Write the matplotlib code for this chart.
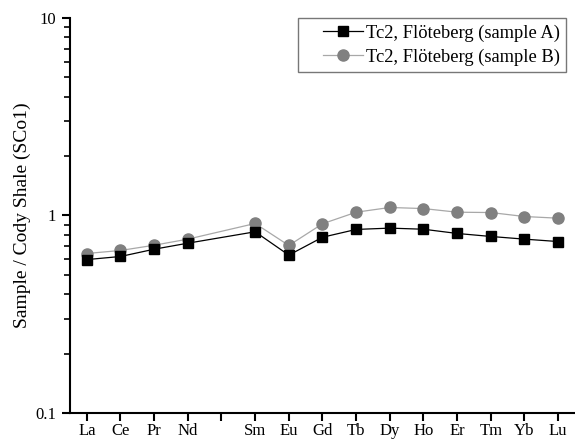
import numpy as np
import matplotlib
matplotlib.use('Agg')
import matplotlib.pyplot as plt
from matplotlib.ticker import LogLocator, NullFormatter, FixedLocator
from matplotlib.legend_handler import HandlerLine2D

# REE labels (Pm slot left empty)
elements = ['La', 'Ce', 'Pr', 'Nd', '', 'Sm', 'Eu', 'Gd', 'Tb', 'Dy', 'Ho', 'Er', 'Tm', 'Yb', 'Lu']
plot_elements = ['La', 'Ce', 'Pr', 'Nd', 'Sm', 'Eu', 'Gd', 'Tb', 'Dy', 'Ho', 'Er', 'Tm', 'Yb', 'Lu']

sample_a = [0.598, 0.62, 0.675, 0.724, 0.827, 0.63, 0.776, 0.85, 0.863, 0.852, 0.811, 0.783, 0.759, 0.738]
sample_b = [0.642, 0.665, 0.707, 0.759, 0.911, 0.705, 0.908, 1.039, 1.098, 1.084, 1.039, 1.035, 0.988, 0.969]

label_a = 'Tc2, Flöteberg (sample A)'
label_b = 'Tc2, Flöteberg (sample B)'

plt.rcParams['font.family'] = ['Liberation Serif', 'DejaVu Serif']

fig = plt.figure(figsize=(5.75, 4.4), dpi=100)
ax = fig.add_axes([0.1217, 0.0614, 0.8783, 0.8977])

xpos = [elements.index(e) for e in plot_elements]

ax.plot(xpos, sample_a, color='black', lw=0.9, marker='s', markersize=7.2,
        markerfacecolor='black', markeredgecolor='black', label=label_a, zorder=3)
ax.plot(xpos, sample_b, color='#a8a8a8', lw=0.9, marker='o', markersize=8,
        markerfacecolor='#808080', markeredgecolor='#808080', label=label_b, zorder=2)

ax.set_yscale('log')
ax.set_ylim(0.1, 10)
ax.set_xlim(-0.5, 14.5)

ax.xaxis.set_major_locator(FixedLocator(range(len(elements))))
ax.set_xticklabels(elements)
ax.yaxis.set_minor_locator(LogLocator(base=10, subs=np.arange(2, 10), numticks=20))
ax.yaxis.set_minor_formatter(NullFormatter())
ax.set_yticks([0.1, 1, 10])
ax.set_yticklabels(['0.1', '1', '10'])

ax.spines['top'].set_visible(False)
ax.spines['right'].set_visible(False)
ax.spines['left'].set_linewidth(1.5)
ax.spines['bottom'].set_linewidth(1.5)
ax.tick_params(axis='both', which='major', direction='out', length=6, width=1.5, labelsize=12)
ax.tick_params(axis='x', which='major', pad=1)
ax.tick_params(axis='y', which='major', pad=4)
ax.tick_params(axis='y', which='minor', direction='out', length=4, width=1.2)

ax.set_ylabel('Sample / Cody Shale (SCo1)', fontsize=14, labelpad=3)

# push legend handles right, leaving blank space before the line
hmap = {ln: HandlerLine2D(xpad=1.05) for ln in ax.get_lines()}
leg = ax.legend(loc='upper right', bbox_to_anchor=(0.983, 1.0), fontsize=13.3, frameon=True,
                fancybox=False, edgecolor='#555555', handlelength=3.2, borderpad=0.35,
                labelspacing=0.35, handletextpad=0.15, borderaxespad=0, handler_map=hmap)
leg.get_frame().set_linewidth(1.0)

fig.savefig('out.png', dpi=100)
